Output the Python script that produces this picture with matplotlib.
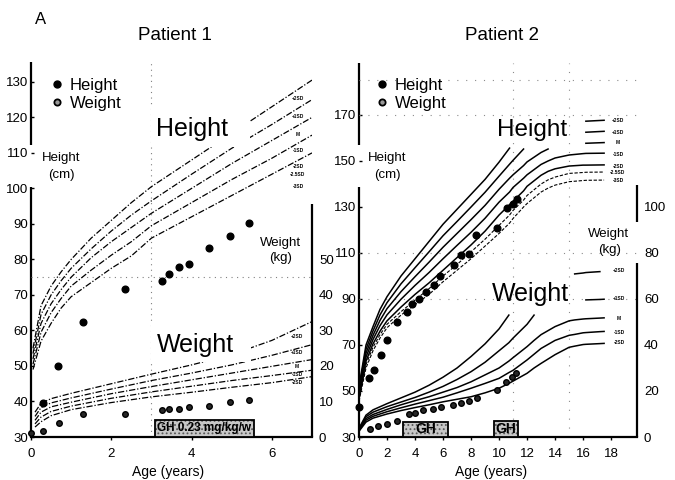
import matplotlib
matplotlib.use('Agg')
import matplotlib.pyplot as plt
from matplotlib.patches import Rectangle
from matplotlib.lines import Line2D
import numpy as np

plt.rcParams['font.family'] = ['Liberation Sans', 'DejaVu Sans']
plt.rcParams['hatch.color'] = '0.35'
plt.rcParams['hatch.linewidth'] = 0.8
nan = np.nan

# ---------------- Patient 1 ----------------
p1_height_age = [0.3, 0.68, 1.3, 2.34, 3.26, 3.43, 3.69, 3.94, 4.44, 4.95, 5.43]
p1_height = [39.5, 50.0, 62.3, 71.7, 74.0, 75.8, 77.8, 78.7, 83.2, 86.6, 90.2]
p1_weight_age = [0.0, 0.3, 0.69, 1.3, 2.34, 3.26, 3.43, 3.69, 3.94, 4.44, 4.95, 5.43]
p1_weight = [1.0, 1.8, 3.9, 6.5, 6.5, 7.6, 7.8, 7.8, 8.5, 8.7, 9.8, 10.4]

p1_ref_h_age = [0.05, 0.25, 0.5, 0.75, 1, 1.5, 2, 2.5, 3, 4, 5, 6, 7]
p1_ref_h_p2 = [55, 67, 72.5, 76.5, 80, 86, 91, 96, 100.5, 108, 115.5, 123, 130.5]
p1_ref_h_p1 = [53.5, 64.5, 70, 74, 77.5, 83, 88, 92.5, 96.5, 104, 111.3, 118, 125]
p1_ref_h_m = [52, 62, 67.5, 71.5, 75, 80.5, 85, 89, 93, 100, 107, 113.5, 120]
p1_ref_h_m1 = [50.5, 59.5, 65, 69, 72.5, 77, 81.2, 85, 89.5, 96, 102.5, 108.5, 115]
p1_ref_h_m2 = [49, 57, 62, 66.3, 69.5, 73.5, 77.5, 81, 86, 92, 98, 104, 110]

p1_ref_w_age = [0.1, 0.25, 0.5, 1, 2, 3, 4, 5, 6, 7]
p1_ref_w_p2 = [7.0, 9.5, 10.8, 12.3, 15.0, 17.7, 20.3, 23.2, 27.2, 32.5]
p1_ref_w_p1 = [5.8, 8.3, 9.6, 11.0, 13.5, 15.9, 18.0, 20.3, 23.0, 26.0]
p1_ref_w_m = [4.7, 7.0, 8.5, 9.8, 12.2, 14.2, 16.1, 18.0, 19.9, 21.8]
p1_ref_w_m1 = [3.7, 5.6, 7.2, 8.7, 10.9, 12.7, 14.3, 15.9, 17.3, 18.8]
p1_ref_w_m2 = [2.8, 4.3, 6.0, 7.7, 9.7, 11.3, 12.6, 14.0, 15.3, 17.0]

# ---------------- Patient 2 ----------------
p2_height_age = [0, 0.72, 1.08, 1.58, 2.03, 2.7, 3.42, 3.78, 4.25, 4.8, 5.33, 5.8,
                 6.76, 7.27, 7.84, 8.36, 9.87, 10.59, 11.0, 11.3]
p2_height = [43.2, 55.5, 59.1, 65.6, 72.2, 80.1, 84.2, 87.8, 89.9, 92.9, 96.1, 100.1,
             104.8, 109.1, 109.7, 117.8, 120.7, 129.4, 131.3, 133.3]
p2_weight_age = [0.79, 1.38, 2.03, 2.7, 3.54, 4.0, 4.6, 5.26, 5.88, 6.69, 7.3, 7.84,
                 8.43, 9.87, 10.47, 10.95, 11.18]
p2_weight = [3.3, 4.8, 5.7, 7.1, 10.0, 10.6, 11.7, 12.2, 13.2, 13.9, 14.6, 15.8,
             16.8, 20.4, 24.0, 26.2, 27.7]

p2_ref_h_age = [0, 0.5, 1, 1.5, 2, 3, 4, 5, 6, 7, 8, 9, 10, 10.75, 11, 11.75, 12,
                13, 13.5, 14, 15, 16, 16.2, 17.5]
p2_ref_h_p2 = [52, 70, 78, 85.5, 91, 100, 107.5, 115, 122.5, 129, 135.5, 142, 149.5, 155.6,
               nan, nan, nan, nan, nan, nan, nan, nan, 167.3, 167.7]
p2_ref_h_p1 = [51, 68.2, 76.1, 83.1, 88.4, 96.6, 103.6, 110.5, 117.5, 123.7, 130, 136.4, 143.4,
               148.6, 150.3, 155.2, nan, nan, nan, nan, nan, nan, 162.5, 162.9]
p2_ref_h_m = [49.8, 66.5, 74.2, 80.7, 85.8, 93.2, 99.7, 106, 112.5, 118.5, 124.5, 130.7, 137.7,
              142.5, 144, 148, 149.6, 153.7, 155.2, nan, nan, nan, 157.7, 158.0]
p2_ref_h_m1 = [48.7, 64.8, 72.4, 78.4, 83.1, 89.9, 95.9, 101.5, 107.5, 113.3, 119, 125.1, 132.1,
               136.5, 138.5, 142.5, 144, 148.5, 150, 151.3, 152.6, 153.2, 153.3, 153.4]
p2_ref_h_m2 = [47.5, 63, 70.5, 76, 80.5, 86.5, 92, 97, 102.5, 108, 113.5, 119.5, 126.5,
               131, 132.5, 137, 139, 143.8, 145.5, 146.6, 147.8, 148.2, 148.2, 148.3]
p2_ref_h_m25 = [46.5, 61.5, 69, 74.5, 79, 84.5, 89.5, 94.5, 100, 105, 110.5, 116, 122,
                126.5, 128.5, 133, 135, 140, 141.8, 143, 144.6, 145, 145.1, 145.2]
p2_ref_h_m3 = [45.5, 60, 67.5, 73, 77.5, 83, 87.5, 92, 97.5, 102.5, 107.5, 113, 118.5,
               123, 125, 130, 131.5, 136.5, 138.2, 139.5, 141, 141.5, 141.6, 141.7]

p2_ref_w_age = [0, 0.5, 1, 2, 3, 4, 5, 6, 7, 8, 9, 10, 10.7, 11, 12, 12.5, 13, 14, 15,
                15.4, 16, 16.2, 17.2, 17.5]
p2_ref_w_p2 = [3.8, 9.5, 11.8, 14.5, 17, 19.5, 22.5, 26, 30, 35, 40.5, 47, 53, nan, nan, nan,
               nan, nan, nan, 70.9, 71.3, 71.5, 71.9, nan]
p2_ref_w_p1 = [3.4, 8.8, 10.8, 13.2, 15.2, 17.2, 19.5, 22, 25, 28.4, 32.5, 37.5, 41, 43, 49, 53,
               nan, nan, nan, nan, nan, 59.6, 59.8, 59.9]
p2_ref_w_m = [3.1, 8, 9.8, 12, 14, 15.8, 17.5, 19.5, 21.5, 24, 27, 30, 33, 34.5, 39.3, 42, 44.5,
              48, 50.5, 50.9, 51.3, 51.4, 51.7, 51.8]
p2_ref_w_m1 = [2.8, 7.3, 9, 11, 12.7, 14.3, 15.8, 17.3, 19.2, 21.2, 23.3, 25.5, 28, 29, 33.5, 36,
               38.5, 42, 44.2, 44.6, 45.3, 45.4, 45.8, 45.9]
p2_ref_w_m2 = [2.5, 6.5, 8.2, 10, 11.5, 12.8, 14, 15.3, 16.4, 17.5, 19.2, 21.2, 23.3, 24.3, 27.7,
               30, 32, 35.8, 39, 39.5, 40.2, 40.3, 40.6, 40.7]

height_sd_labels = ['+2SD', '+1SD', 'M', '-1SD', '-2SD', '-2.5SD', '-3SD']
weight_sd_labels = ['+2SD', '+1SD', 'M', '-1SD', '-2SD']
p1_xticks = [0, 2, 4, 6]
p1_yticks = list(range(30, 131, 10))
p1_wticks = list(range(0, 51, 10))
p2_xticks = list(range(0, 19, 2))
p2_yticks = list(range(30, 171, 20))
p2_wticks = list(range(0, 101, 20))

# ---------------- figure ----------------
W, H = 675, 480
fig = plt.figure(figsize=(6.75, 4.8), dpi=100)


def fx(px):
    return px / W


def fy(py):
    return 1 - py / H


def ftext(x, y, s, **kw):
    fig.text(fx(x), fy(y), s, ha=kw.pop('ha', 'center'), va=kw.pop('va', 'center'), **kw)


def setup(ax, axr, xlim, ylim, xticks, yticks, wticks, gap, rspine):
    ax.set_xlim(*xlim)
    ax.set_ylim(*ylim)
    axr.set_ylim(0, ylim[1] - 30)
    for a in (ax, axr):
        for s in ('top', 'right', 'left'):
            a.spines[s].set_visible(False)
    axr.spines['bottom'].set_visible(False)
    ax.spines['bottom'].set_linewidth(1.6)
    ax.set_xticks(xticks)
    ax.set_yticks(yticks)
    axr.set_yticks(wticks)
    ax.tick_params(axis='x', length=2, width=1, pad=6, labelsize=9.5)
    ax.tick_params(axis='y', length=2, width=1, pad=2, direction='in', labelsize=9.5)
    axr.tick_params(axis='y', length=0, pad=5, labelsize=9.5)
    ax.plot([0, 0], [ylim[0], gap[0]], color='k', lw=1.6, clip_on=False, solid_capstyle='butt')
    ax.plot([0, 0], [gap[1], ylim[1]], color='k', lw=1.6, clip_on=False, solid_capstyle='butt')
    for seg in rspine:
        axr.plot([xlim[1], xlim[1]], seg, color='k', lw=1.6, clip_on=False, solid_capstyle='butt')


def gh_box(axr, a0, a1, top, txt, fs):
    axr.add_patch(Rectangle((a0, 0), a1 - a0, top, facecolor='0.78', edgecolor='0.35', lw=0,
                            hatch='....', zorder=6))
    axr.add_patch(Rectangle((a0, 0), a1 - a0, top, facecolor='none', edgecolor='k', lw=1.3,
                            zorder=6.5))
    axr.text((a0 + a1) / 2, top / 2, txt, ha='center', va='center', fontsize=fs,
             fontweight='bold', zorder=7)


# ---- Patient 1 axes ----
ax1 = fig.add_axes([fx(31), fy(437), fx(312) - fx(31), fy(62) - fy(437)])
ax1r = ax1.twinx()
setup(ax1, ax1r, (0, 7), (30, 135.6), p1_xticks, p1_yticks, p1_wticks,
      (100.4, 112.3), [(0, 65.5)])

dot = dict(color='0.5', lw=0.8, ls=(0, (1, 4)))
ax1.axvline(3, **dot)
ax1.axhline(75, **dot)

dashdot = dict(color='k', lw=0.9, ls=(0, (5, 1.5, 1, 1.5)))
for vals in (p1_ref_h_p2, p1_ref_h_p1, p1_ref_h_m, p1_ref_h_m1, p1_ref_h_m2):
    ax1.plot(p1_ref_h_age, vals, **dashdot)
for vals in (p1_ref_w_p2, p1_ref_w_p1, p1_ref_w_m, p1_ref_w_m1, p1_ref_w_m2):
    ax1r.plot(p1_ref_w_age, vals, **dashdot)

ax1.add_patch(Rectangle((2.98, 111.7), 2.47, 11.5, facecolor='white', edgecolor='none', zorder=3))
ax1r.add_patch(Rectangle((2.98, 21.1), 2.5, 10.4, facecolor='white', edgecolor='none', zorder=3))

ax1.plot(p1_height_age, p1_height, 'o', color='k', ms=4.8, zorder=5, clip_on=False)
ax1r.plot(p1_weight_age, p1_weight, 'o', mfc='0.15', mec='k', ms=4.0, zorder=5, clip_on=False)

gh_box(ax1r, 3.09, 5.55, 4.8, 'GH 0.23 mg/kg/w', 8.5)

# ---- Patient 2 axes ----
ax2 = fig.add_axes([fx(359), fy(437), fx(637) - fx(359), fy(63) - fy(437)])
ax2r = ax2.twinx()
setup(ax2, ax2r, (0, 19.85), (30, 192.6), p2_xticks, p2_yticks, p2_wticks,
      (138.7, 157.0), [(0, 75.6), (93.5, 109.6)])

dot2 = dict(color='0.55', lw=0.8, ls=(0, (1, 7)))
for h in (90, 110, 170, 185):
    ax2.axhline(h, **dot2)
for a in (11, 15):
    ax2.axvline(a, **dot2)

solid = dict(color='k', lw=1.1)
dashed = dict(color='k', lw=0.8, ls=(0, (3, 1.5)))
for vals in (p2_ref_h_p2, p2_ref_h_p1, p2_ref_h_m, p2_ref_h_m1, p2_ref_h_m2):
    ax2.plot(p2_ref_h_age, vals, **solid)
for vals in (p2_ref_h_m25, p2_ref_h_m3):
    ax2.plot(p2_ref_h_age, vals, **dashed)
for vals in (p2_ref_w_p2, p2_ref_w_p1, p2_ref_w_m, p2_ref_w_m1, p2_ref_w_m2):
    ax2r.plot(p2_ref_w_age, vals, **solid)

ax2.plot(p2_height_age, p2_height, 'o', color='k', ms=4.8, zorder=5, clip_on=False)
ax2r.plot(p2_weight_age, p2_weight, 'o', mfc='0.15', mec='k', ms=4.0, zorder=5, clip_on=False)

gh_box(ax2r, 3.13, 6.34, 6.6, 'GH', 10)
gh_box(ax2r, 9.63, 11.38, 6.8, 'GH', 10)

# ---- legends ----
hh = Line2D([], [], ls='none', marker='o', color='k', ms=5)
hw = Line2D([], [], ls='none', marker='o', mfc='0.6', mec='k', mew=1.3, ms=4.5)
for xpx in (53.25, 378.25):
    fig.legend([hh, hw], ['Height', 'Weight'], loc='upper left',
               bbox_to_anchor=(fx(xpx), fy(78)), frameon=False, fontsize=12,
               handlelength=0.45, handletextpad=0.55, labelspacing=0.2,
               borderpad=0, borderaxespad=0)

# ---- texts ----
ftext(41, 19, 'A', fontsize=12)
ftext(175, 35, 'Patient 1', fontsize=13.5)
ftext(502, 35, 'Patient 2', fontsize=13.5)

ftext(192, 129, 'Height', fontsize=18, zorder=10)
ftext(195, 345, 'Weight', fontsize=18, zorder=10)
ftext(532, 130, 'Height', fontsize=17.5, zorder=10)
ftext(530, 294, 'Weight', fontsize=18, zorder=10)

ftext(61, 158, 'Height', fontsize=9.5)
ftext(61, 175, '(cm)', fontsize=9.5)
ftext(387, 158, 'Height', fontsize=9.5)
ftext(387, 175, '(cm)', fontsize=9.5)
ftext(280, 243, 'Weight', fontsize=9.5)
ftext(281, 258, '(kg)', fontsize=9.5)
ftext(608, 234, 'Weight', fontsize=9.5)
ftext(610, 250, '(kg)', fontsize=9.5)

ftext(168, 472, 'Age (years)', fontsize=10)
ftext(491, 472, 'Age (years)', fontsize=10)

for lab, ypx in zip(height_sd_labels, [98, 116, 134, 150, 166, 175, 186]):
    ftext(298, ypx, lab, fontsize=3.5, fontweight='bold')
for lab, ypx in zip(weight_sd_labels, [337, 353, 367, 375, 382]):
    ftext(297, ypx, lab, fontsize=3.5, fontweight='bold')
for lab, ypx in zip(height_sd_labels, [121, 132, 143, 154, 166, 173, 181]):
    ftext(618, ypx, lab, fontsize=3.5, fontweight='bold')
for lab, ypx in zip(weight_sd_labels, [271, 299, 318, 332, 343]):
    ftext(619, ypx, lab, fontsize=3.5, fontweight='bold')

fig.savefig('out.png', dpi=100)
